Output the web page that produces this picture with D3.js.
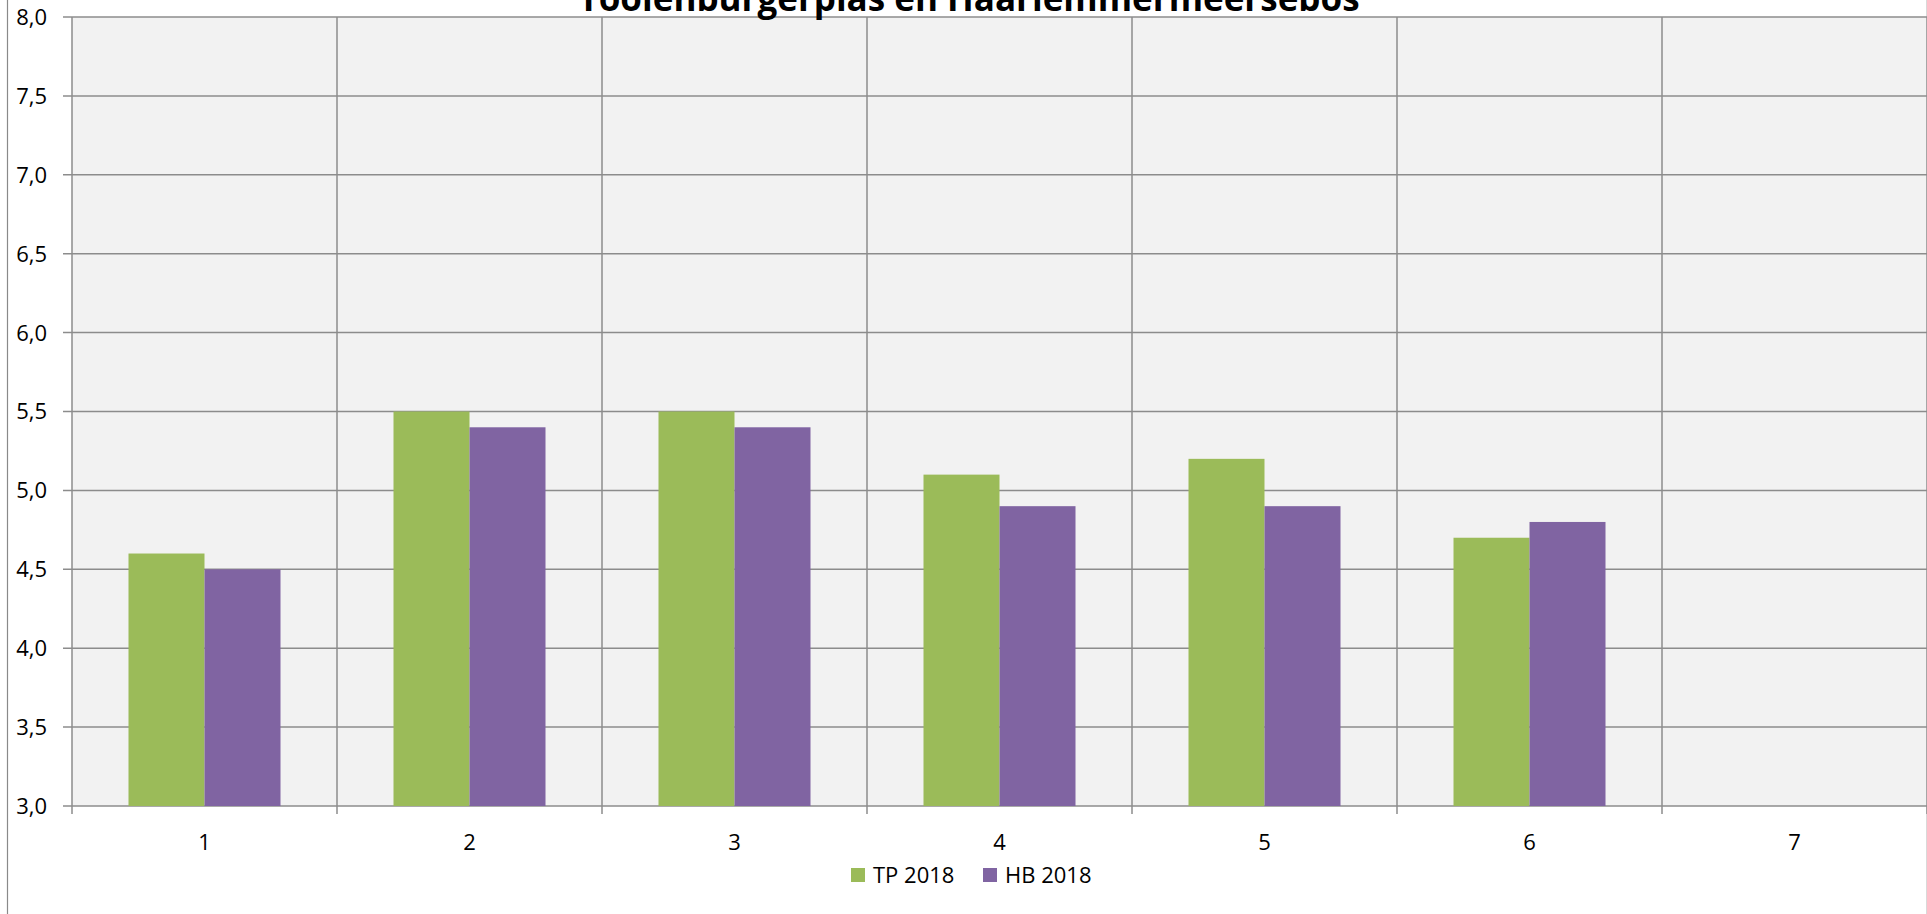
<!DOCTYPE html>
<html>
<head>
<meta charset="utf-8">
<script src="https://cdn.jsdelivr.net/npm/d3@7"></script>
<style>
  body { margin: 0; background: #fff; }
  text { font-family: "Open Sans", sans-serif; fill: #000; }
</style>
</head>
<body>
<div id="chart"></div>
<script>
let categories = ["1", "2", "3", "4", "5", "6", "7"];
let seriesNames = ["TP 2018", "HB 2018"];
let tp2018 = [4.6, 5.5, 5.5, 5.1, 5.2, 4.7, null];
let hb2018 = [4.5, 5.4, 5.4, 4.9, 4.9, 4.8, null];
let yTicks = [3.0, 3.5, 4.0, 4.5, 5.0, 5.5, 6.0, 6.5, 7.0, 7.5, 8.0];
let colors = ["#9bbb59", "#8064a2"];
let title = "Toolenburgerplas en Haarlemmermeersebos";

let width = 1927, height = 914;
let margin = {top: 17, right: 0, bottom: 108, left: 72};

let svg = d3.select("#chart")
    .append("svg")
    .attr("width", width)
    .attr("height", height);

// chart area border (left side visible)
svg.append("line")
    .attr("x1", 7.5).attr("x2", 7.5)
    .attr("y1", 0).attr("y2", height)
    .attr("stroke", "#8a8a8a").attr("stroke-width", 1.2);
svg.append("line")
    .attr("x1", width - 0.5).attr("x2", width - 0.5)
    .attr("y1", 0).attr("y2", height)
    .attr("stroke", "#d9d9d9").attr("stroke-width", 1);

let x = d3.scaleBand()
    .domain(categories)
    .range([margin.left, width - margin.right])
    .paddingInner(0.4264)
    .paddingOuter(0.2132);

let xSub = d3.scaleBand()
    .domain(seriesNames)
    .range([0, x.bandwidth()]);

let y = d3.scaleLinear()
    .domain([3, 8])
    .range([height - margin.bottom, margin.top]);

let fmt = v => d3.format(".1f")(v).replace(".", ",");

// plot background
svg.append("rect")
    .attr("x", margin.left)
    .attr("y", y(8))
    .attr("width", width - margin.right - margin.left)
    .attr("height", y(3) - y(8))
    .attr("fill", "#f2f2f2");

let step = x.step();
let boundaries = categories.map((c, i) => margin.left + i * step);
boundaries.push(width - margin.right);

let grid = svg.append("g");

grid.selectAll("line.h")
    .data(yTicks)
    .enter()
    .append("line")
    .attr("x1", margin.left - 9)
    .attr("x2", width - margin.right)
    .attr("y1", d => y(d))
    .attr("y2", d => y(d))
    .attr("stroke", "#8c8c8c")
    .attr("stroke-width", 1.5);

grid.selectAll("line.v")
    .data(boundaries)
    .enter()
    .append("line")
    .attr("x1", d => d)
    .attr("x2", d => d)
    .attr("y1", y(8))
    .attr("y2", y(3) + 8)
    .attr("stroke", "#8c8c8c")
    .attr("stroke-width", 1.5);

// bars
let data = [];
categories.forEach((c, i) => {
    [tp2018, hb2018].forEach((s, j) => {
        if (s[i] != null) data.push({cat: c, series: seriesNames[j], value: s[i], color: colors[j]});
    });
});

svg.append("g")
    .selectAll("rect")
    .data(data)
    .enter()
    .append("rect")
    .attr("x", d => x(d.cat) + xSub(d.series))
    .attr("y", d => y(d.value))
    .attr("width", xSub.bandwidth())
    .attr("height", d => y(3) - y(d.value))
    .attr("fill", d => d.color);

// y labels
svg.append("g")
    .selectAll("text")
    .data(yTicks)
    .enter()
    .append("text")
    .attr("x", 47)
    .attr("y", d => y(d))
    .attr("dy", "0.36em")
    .style("text-anchor", "end")
    .style("font-size", "22px")
    .text(d => fmt(d));

// x labels
svg.append("g")
    .selectAll("text")
    .data(categories)
    .enter()
    .append("text")
    .attr("x", d => x(d) + x.bandwidth() / 2)
    .attr("y", 842)
    .attr("dy", "0.36em")
    .style("text-anchor", "middle")
    .style("font-size", "22px")
    .text(d => d);

// title (cut off at the top, as in the original)
svg.append("text")
    .attr("x", 969)
    .attr("y", 11)
    .style("text-anchor", "middle")
    .style("font-size", "35px")
    .style("font-weight", "bold")
    .text(title);

// legend
let legendX = [851, 983];
let legend = svg.append("g")
    .selectAll("g")
    .data(seriesNames)
    .enter()
    .append("g")
    .attr("transform", (d, i) => `translate(${legendX[i]}, 875)`);

legend.append("rect")
    .attr("x", 0)
    .attr("y", -7)
    .attr("width", 14)
    .attr("height", 14)
    .attr("fill", (d, i) => colors[i]);

legend.append("text")
    .attr("x", 22)
    .attr("y", 0)
    .attr("dy", "0.36em")
    .style("font-size", "22px")
    .text(d => d);
</script>
</body>
</html>
